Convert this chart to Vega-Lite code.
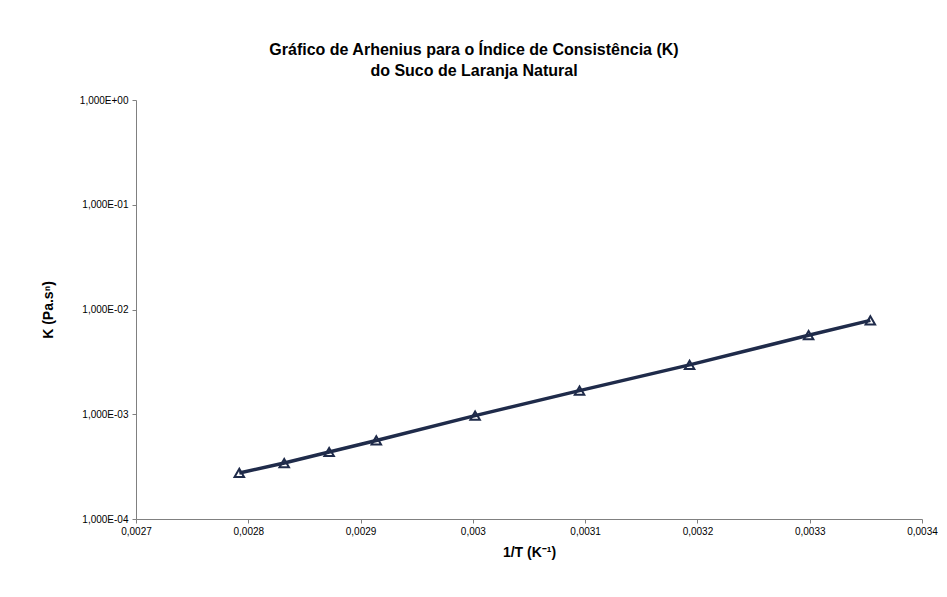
{
  "$schema": "https://vega.github.io/schema/vega-lite/v6.json",
  "width": 786,
  "height": 419,
  "autosize": "none",
  "padding": {"left": 136, "top": 100, "right": 25, "bottom": 78},
  "background": "white",
  "config": {
    "font": "Liberation Sans",
    "view": {"stroke": null},
    "axis": {
      "grid": false,
      "domainColor": "#808080",
      "tickColor": "#808080",
      "tickSize": 4,
      "labelFont": "Liberation Sans",
      "labelFontSize": 10,
      "labelColor": "black",
      "titleFont": "Liberation Sans",
      "titleFontSize": 14,
      "titleFontWeight": "bold",
      "titleColor": "black"
    }
  },
  "title": {
    "text": ["Gráfico de Arhenius para o Índice de Consistência (K)", "do Suco de Laranja Natural"],
    "font": "Liberation Sans",
    "fontSize": 16,
    "fontWeight": "bold",
    "lineHeight": 21,
    "color": "black",
    "anchor": "middle",
    "dx": -55,
    "offset": 16
  },
  "data": {
    "values": [
      {"invT": 0.002792, "K": 0.000275},
      {"invT": 0.002832, "K": 0.000342},
      {"invT": 0.002872, "K": 0.000436},
      {"invT": 0.002914, "K": 0.000562},
      {"invT": 0.003002, "K": 0.00097},
      {"invT": 0.003095, "K": 0.00168},
      {"invT": 0.003193, "K": 0.00296},
      {"invT": 0.003299, "K": 0.00568},
      {"invT": 0.003354, "K": 0.00788}
    ]
  },
  "encoding": {
    "x": {
      "field": "invT",
      "type": "quantitative",
      "scale": {"domain": [0.0027, 0.0034], "nice": false, "zero": false},
      "axis": {
        "title": "1/T (K⁻¹)",
        "values": [0.0027, 0.0028, 0.0029, 0.003, 0.0031, 0.0032, 0.0033, 0.0034],
        "labelExpr": "replace(format(datum.value, '.4~f'), '.', ',')",
        "labelPadding": 3,
        "titlePadding": 9,
        "labelFlush": false
      }
    },
    "y": {
      "field": "K",
      "type": "quantitative",
      "scale": {"type": "log", "domain": [0.0001, 1], "nice": false},
      "axis": {
        "title": "K (Pa.sⁿ)",
        "values": [0.0001, 0.001, 0.01, 0.1, 1],
        "labelExpr": "'1,000E' + (datum.value >= 1 ? '+00' : '-0' + format(-round(log(datum.value) / LN10), 'd'))",
        "labelPadding": 4,
        "titlePadding": 24,
        "labelFlush": false
      }
    }
  },
  "layer": [
    {
      "mark": {"type": "point", "shape": "triangle-up", "size": 90, "filled": true, "fill": "white", "stroke": "#1f2b4a", "strokeWidth": 2, "opacity": 1}
    },
    {
      "mark": {"type": "line", "color": "#1f2b4a", "strokeWidth": 3.5}
    }
  ]
}
